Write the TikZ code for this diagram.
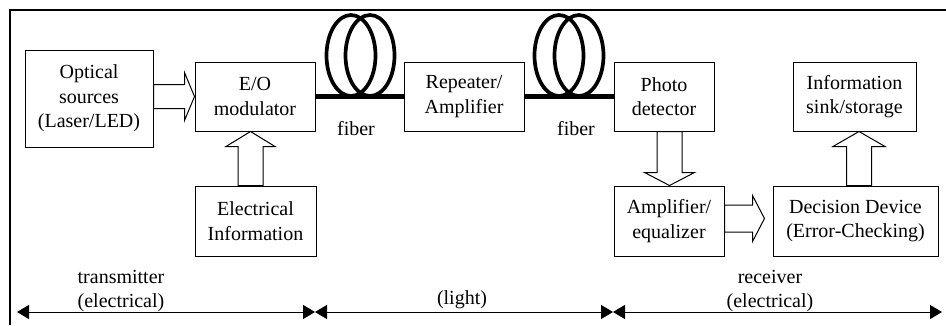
\documentclass[tikz,border=0pt]{standalone}
\usepackage{fontspec}
\setmainfont{Liberation Serif}
\usetikzlibrary{arrows.meta,calc}
% block arrows: start, tip, shaft half-width, head half-width, head length
\newcommand\hblockarrow[5]{\draw[barrow] let \p1=(#1), \p2=(#2), \p3=($(#2)!#5!(#1)$) in
  (\x1,\y2+#3) -- (\x3,\y2+#3) -- (\x3,\y2+#4) -- (\x2,\y2) -- (\x3,\y2-#4) -- (\x3,\y2-#3) -- (\x1,\y2-#3) -- cycle;}
\newcommand\vblockarrow[5]{\draw[barrow] let \p1=(#1), \p2=(#2), \p3=($(#2)!#5!(#1)$) in
  (\x2-#3,\y1) -- (\x2-#3,\y3) -- (\x2-#4,\y3) -- (\x2,\y2) -- (\x2+#4,\y3) -- (\x2+#3,\y3) -- (\x2+#3,\y1) -- cycle;}
\begin{document}
\begin{tikzpicture}[x=1pt,y=-1pt,
  box/.style={draw,line width=1pt,rectangle,inner sep=0pt,align=center,
    font=\fontsize{20}{24.5}\selectfont},
  lbl/.style={inner sep=0pt,align=center,font=\fontsize{20}{24.5}\selectfont},
  barrow/.style={draw,line width=1pt,fill=white,line join=miter},
  fib/.style={line width=3.7pt},
  span/.style={line width=1pt,{Triangle[length=12pt,width=14pt]}-{Triangle[length=12pt,width=14pt]}}
]
\useasboundingbox (0,0) rectangle (946,325);
% frame (cropped)
\draw[line width=2.4pt] (946,10) -- (10,10) -- (10,325);

% boxes
\node[box,minimum width=128pt,minimum height=97pt] (opt) at (89,98.5) {Optical\\sources\\(Laser/LED)};
\node[box,minimum width=120pt,minimum height=69pt] (eo) at (255,96.5) {E/O\\modulator};
\node[box,minimum width=121pt,minimum height=70pt] (elec) at (255.5,221) {Electrical\\Information};
\node[box,minimum width=120pt,minimum height=69pt] (rep) at (464,96.5) {Repeater/\\Amplifier};
\node[box,minimum width=100pt,minimum height=69pt] (pd) at (664,96.5) {Photo\\detector};
\node[box,minimum width=123pt,minimum height=69pt] (sink) at (854.5,96.5) {Information\\sink/storage};
\node[box,minimum width=110pt,minimum height=70pt] (amp) at (669,221) {Amplifier/\\equalizer};
\node[box,minimum width=165pt,minimum height=70pt] (dec) at (855.5,221) {Decision Device\\(Error-Checking)};

% fibers
\draw[fib,line width=4.2pt] (eo.east) -- (rep.west);
\draw[fib,line width=4.2pt] (rep.east) -- (pd.west);
\draw[fib] (351,55.5) ellipse [x radius=24.5pt, y radius=40.5pt];
\draw[fib] (370,55.5) ellipse [x radius=24.5pt, y radius=40.5pt];
\draw[fib] (559,55.5) ellipse [x radius=24.5pt, y radius=40.5pt];
\draw[fib] (579,55.5) ellipse [x radius=24.5pt, y radius=40.5pt];
\node[lbl] (f1) at (356,129) {fiber};
\node[lbl] (f2) at (576,129) {fiber};

% block arrows
\coordinate (s0) at (opt.east |- eo.west);
\hblockarrow{s0}{eo.west}{12pt}{24pt}{10pt}
\coordinate (t1) at ($(eo.south)+(-4.5,0)$);
\coordinate (s1) at (t1 |- elec.north);
\vblockarrow{s1}{t1}{12.5pt}{24.5pt}{15pt}
\coordinate (t2) at ($(amp.north)+(0.5,0)$);
\coordinate (s2) at (t2 |- pd.south);
\vblockarrow{s2}{t2}{12.5pt}{25pt}{13pt}
\coordinate (t3) at ($(dec.west)+(-8,-2.5)$);
\coordinate (s3) at (amp.east |- t3);
\hblockarrow{s3}{t3}{13.5pt}{23pt}{12pt}
\coordinate (t4) at ($(sink.south)+(4.5,0)$);
\coordinate (s4) at (t4 |- dec.north);
\vblockarrow{s4}{t4}{12.5pt}{26pt}{15pt}

% spans
\coordinate (b0) at (17,312);
\coordinate (b1) at (315,312);
\coordinate (b2) at (613,312);
\coordinate (b3) at (942,312);
\draw[span] (b0) -- (b1);
\draw[span] (b1) -- (b2);
\draw[span] (b2) -- (b3);
\node[lbl] (tx) at (121,291) {transmitter\\(electrical)};
\node[lbl] (li) at (462,300) {(light)};
\node[lbl] (rx) at (770,291) {receiver\\(electrical)};
\end{tikzpicture}
\end{document}
